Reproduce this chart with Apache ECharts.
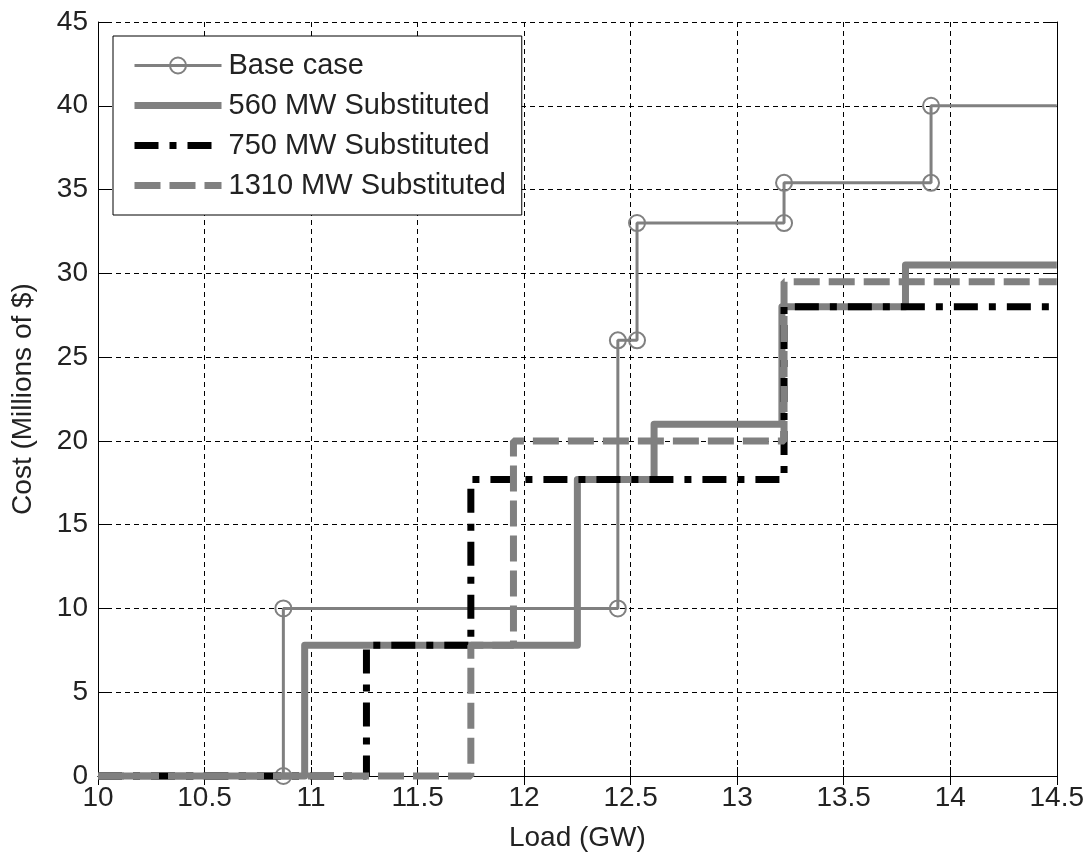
<!DOCTYPE html>
<html>
<head>
<meta charset="utf-8">
<script src="https://cdn.jsdelivr.net/npm/echarts@6/dist/echarts.min.js"></script>
<style>
  html, body { margin: 0; padding: 0; background: #fff; }
  #chart { width: 1087px; height: 857px; }
</style>
</head>
<body>
<div id="chart"></div>
<script>
// step curves, corner points (x = load GW, y = cost M$)
const baseX = [10, 10.87, 10.87, 12.44, 12.44, 12.53, 12.53, 13.22, 13.22, 13.91, 13.91, 14.5];
const baseY = [0, 0, 10, 10, 26, 26, 33, 33, 35.4, 35.4, 40, 40];

const mw560X = [10, 10.97, 10.97, 12.25, 12.25, 12.61, 12.61, 13.21, 13.21, 13.79, 13.79, 14.5];
const mw560Y = [0, 0, 7.8, 7.8, 17.7, 17.7, 21, 21, 28, 28, 30.5, 30.5];

const mw750X = [10, 11.26, 11.26, 11.75, 11.75, 13.22, 13.22, 14.5];
const mw750Y = [0, 0, 7.8, 7.8, 17.7, 17.7, 28, 28];

const mw1310X = [10, 11.75, 11.75, 11.95, 11.95, 13.22, 13.22, 14.5];
const mw1310Y = [0, 0, 7.8, 7.8, 20, 20, 29.5, 29.5];

const seriesNames = ['Base case', '560 MW Substituted', '750 MW Substituted', '1310 MW Substituted'];
const xTicks = { min: 10, max: 14.5, step: 0.5 };
const yTicks = { min: 0, max: 45, step: 5 };

const FONT = "'Liberation Sans', Arial, sans-serif";
const GREY = '#808080';
const NOFILL = 'rgba(0,0,0,0)';

function pairs(xs, ys) {
  return xs.map((x, i) => [x, ys[i]]);
}

// no circle on the first and last point of the base case (line just runs to the frame)
const baseData = pairs(baseX, baseY).map((p, i, arr) => {
  if (i === 0 || i === arr.length - 1) {
    return { value: p, symbol: 'none' };
  }
  return { value: p };
});

const chart = echarts.init(document.getElementById('chart'), null, { renderer: 'canvas' });

const gridLine = { show: true, lineStyle: { color: '#000', width: 1, type: [5, 4] } };
const frame = { show: true, lineStyle: { color: '#000', width: 1 } };
const tick = { show: true, inside: true, length: 9, lineStyle: { color: '#000' } };

// legend entries: only the base case shows its marker
const legendData = seriesNames.map((name, i) => {
  if (i === 0) {
    return { name: name, itemStyle: { color: NOFILL, borderColor: GREY, borderWidth: 2 } };
  }
  return { name: name, itemStyle: { opacity: 0 } };
});

const option = {
  animation: false,
  backgroundColor: '#fff',
  grid: { left: 98, right: 30, top: 22, bottom: 81 },
  legend: {
    orient: 'vertical',
    left: 113,
    top: 36,
    padding: [15, 16, 15, 18],
    itemWidth: 87,
    itemHeight: 20,
    itemGap: 11,
    backgroundColor: '#fff',
    borderColor: '#000',
    borderWidth: 1,
    borderRadius: 0,
    data: legendData,
    lineStyle: { width: 'inherit' },
    textStyle: { fontFamily: FONT, fontSize: 29, color: '#222', padding: [0, 0, 0, 2] },
  },
  xAxis: [
    {
      type: 'value',
      position: 'bottom',
      min: xTicks.min,
      max: xTicks.max,
      interval: xTicks.step,
      name: 'Load (GW)',
      nameLocation: 'middle',
      nameGap: 48,
      nameTextStyle: { fontFamily: FONT, fontSize: 28, color: '#222' },
      axisLine: frame,
      axisTick: tick,
      axisLabel: { fontFamily: FONT, fontSize: 28, color: '#222', margin: 8 },
      splitLine: gridLine,
    },
    {
      type: 'value',
      position: 'top',
      min: xTicks.min,
      max: xTicks.max,
      interval: xTicks.step,
      axisLine: frame,
      axisTick: tick,
      axisLabel: { show: false },
      splitLine: { show: false },
    },
  ],
  yAxis: [
    {
      type: 'value',
      position: 'left',
      min: yTicks.min,
      max: yTicks.max,
      interval: yTicks.step,
      name: 'Cost (Millions of $)',
      nameLocation: 'middle',
      nameRotate: 90,
      nameGap: 61,
      nameTextStyle: { fontFamily: FONT, fontSize: 28, color: '#222' },
      axisLine: frame,
      axisTick: tick,
      axisLabel: { fontFamily: FONT, fontSize: 28, color: '#222', margin: 10 },
      splitLine: gridLine,
    },
    {
      type: 'value',
      position: 'right',
      min: yTicks.min,
      max: yTicks.max,
      interval: yTicks.step,
      axisLine: frame,
      axisTick: tick,
      axisLabel: { show: false },
      splitLine: { show: false },
    },
  ],
  series: [
    {
      name: seriesNames[0],
      type: 'line',
      data: baseData,
      symbol: 'circle',
      symbolSize: 16,
      showAllSymbol: true,
      clip: false,
      itemStyle: { color: NOFILL, borderColor: GREY, borderWidth: 2 },
      lineStyle: { color: GREY, width: 3 },
      emphasis: { disabled: true },
      z: 2,
    },
    {
      name: seriesNames[1],
      type: 'line',
      data: pairs(mw560X, mw560Y),
      symbol: 'none',
      clip: false,
      itemStyle: { color: GREY },
      lineStyle: { color: GREY, width: 7, join: 'round' },
      emphasis: { disabled: true },
      z: 3,
    },
    {
      name: seriesNames[2],
      type: 'line',
      data: pairs(mw750X, mw750Y),
      symbol: 'none',
      clip: false,
      itemStyle: { color: '#000' },
      lineStyle: { color: '#000', width: 7, type: [24, 11, 7, 11] },
      emphasis: { disabled: true },
      z: 4,
    },
    {
      name: seriesNames[3],
      type: 'line',
      data: pairs(mw1310X, mw1310Y),
      symbol: 'none',
      clip: false,
      itemStyle: { color: GREY },
      lineStyle: { color: GREY, width: 7, type: [26, 9] },
      emphasis: { disabled: true },
      z: 5,
    },
  ],
};

chart.setOption(option);
</script>
</body>
</html>
